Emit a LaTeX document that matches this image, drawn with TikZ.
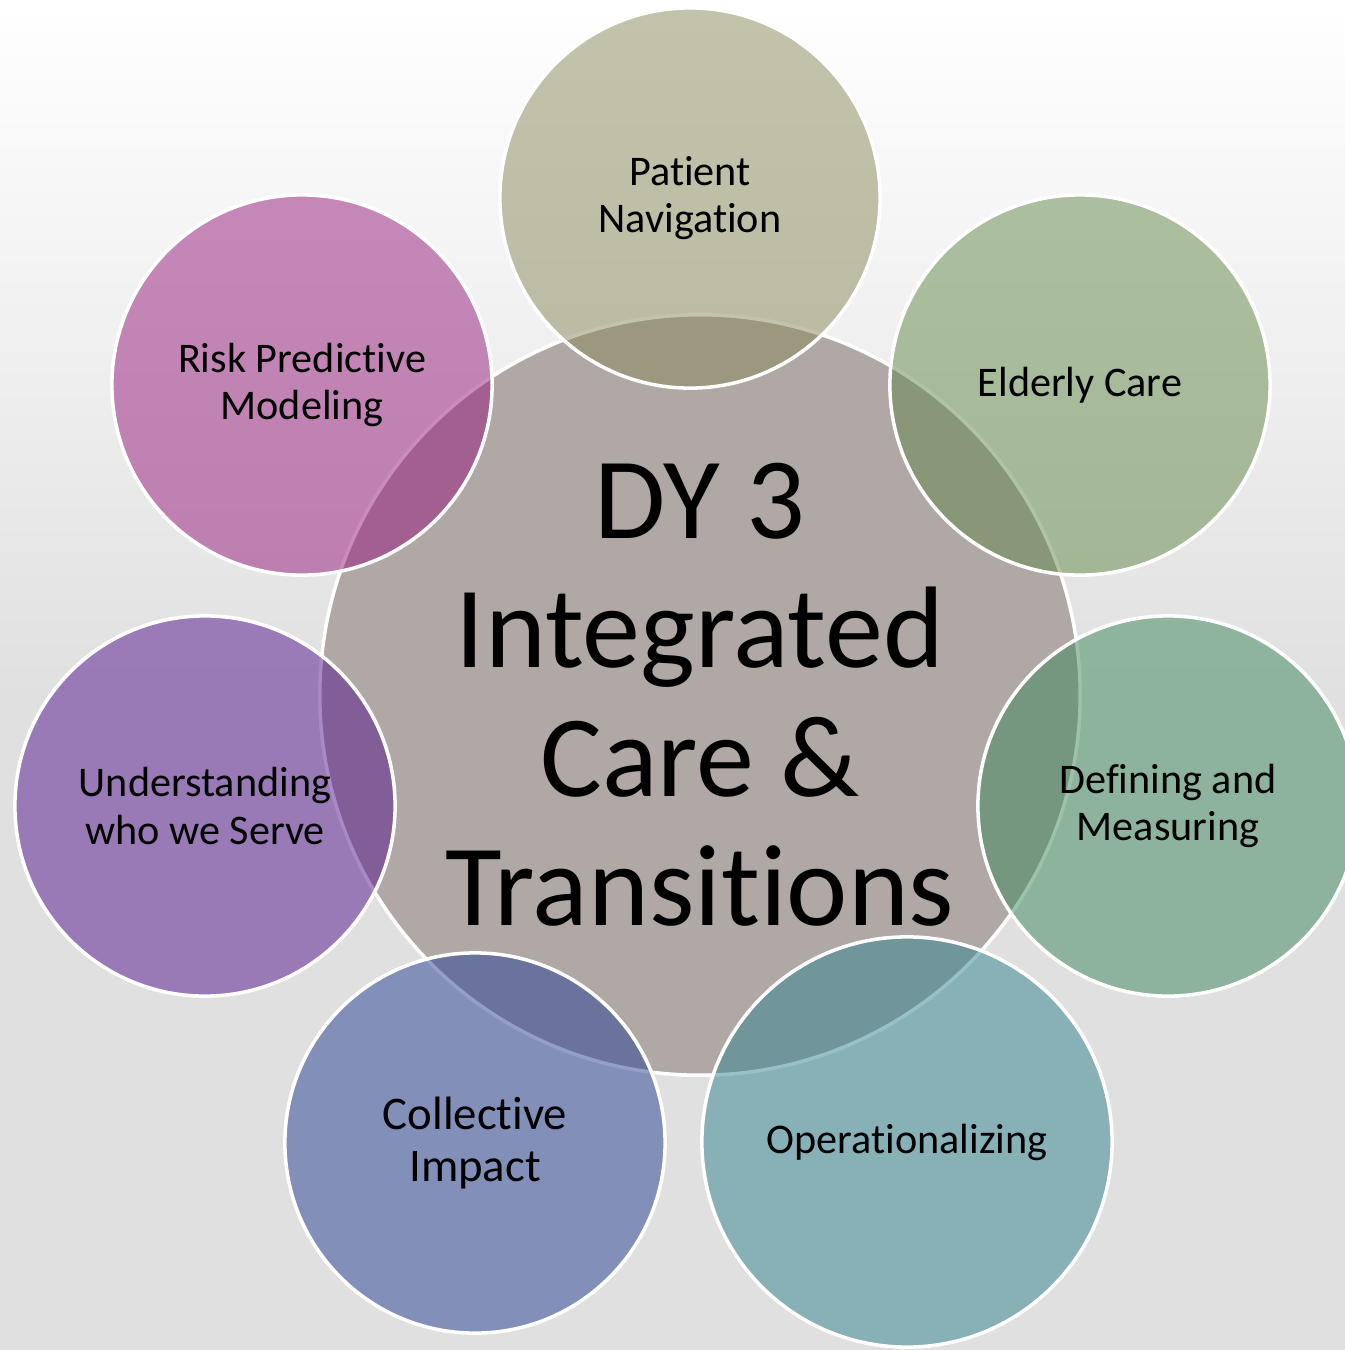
\documentclass[tikz,border=0pt]{standalone}
\usepackage{fontspec}
\setmainfont{Carlito}[Ligatures = NoCommon]
\usepackage{tikz}
\definecolor{color0}{RGB}{176, 168, 165}
\definecolor{color1}{RGB}{137, 137, 89}
\definecolor{color2}{RGB}{98, 138, 72}
\definecolor{color3}{RGB}{59, 135, 91}
\definecolor{color4}{RGB}{50, 132, 144}
\definecolor{color5}{RGB}{38, 64, 146}
\definecolor{color6}{RGB}{83, 21, 141}
\definecolor{color7}{RGB}{150, 24, 124}
\definecolor{backgray}{RGB}{224, 224, 224}

\begin{document}
\begin{tikzpicture}[x = 0.01cm, y = -0.01cm,
	bubble/.style = {circle, draw = white, line width = 1pt, fill opacity = 0.5, text opacity = 1, minimum size = 3.8cm, inner sep = 0pt, align = center, font = \fontsize{12}{13.4}\selectfont}]
	\useasboundingbox (0, 0) rectangle (1345, 1350);
	\clip (0, 0) rectangle (1345, 1350);
	\shade[top color = white, bottom color = backgray] (0, 0) rectangle (1345, 700);
	\fill[backgray] (0, 699) rectangle (1345, 1350);
	\node[circle, draw = white, line width = 1pt, fill = color0, minimum size = 7.6cm, inner sep = 0pt, align = center, font = \fontsize{33}{36.7}\selectfont] (dy) at (700, 695) {DY 3\\Integrated\\Care \&\\Transitions};
	\node[bubble, fill = color1] (nav) at (690, 198) {Patient\\Navigation};
	\node[bubble, fill = color2] (elderly) at (1080, 385) {Elderly Care};
	\node[bubble, fill = color3] (defining) at (1168, 806) {Defining and\\Measuring};
	\node[bubble, fill = color4, minimum size = 4.1cm] (operational) at (907, 1142) {Operationalizing};
	\node[bubble, fill = color5, font = \fontsize{13.3}{14.7}\selectfont] (collective) at (475, 1143) {Collective\\Impact};
	\node[bubble, fill = color6] (serve) at (205, 806) {Understanding\\who we Serve};
	\node[bubble, fill = color7] (risk) at (302, 385) {Risk Predictive\\Modeling};
\end{tikzpicture}
\end{document}
